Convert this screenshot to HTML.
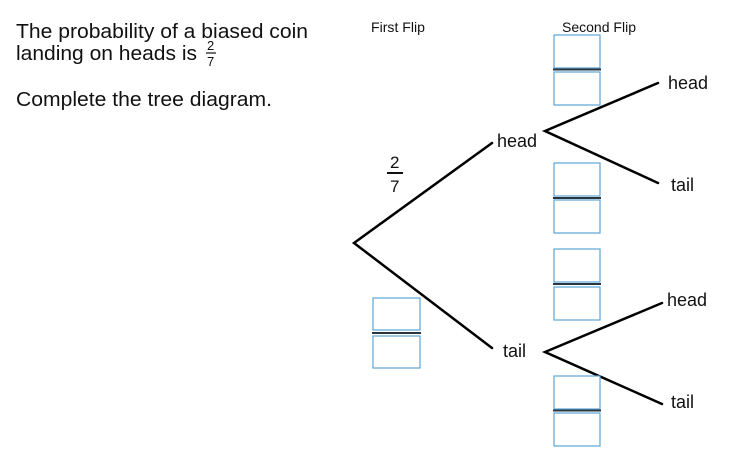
<!DOCTYPE html>
<html><head><style>
html,body{margin:0;padding:0;background:#fff;}
svg{display:block;}
text{font-family:"Liberation Sans",Arial,sans-serif;fill:#111;}
</style></head><body>
<svg width="749" height="455" viewBox="0 0 749 455" xmlns="http://www.w3.org/2000/svg">
<text x="16" y="38" font-size="20" textLength="292" lengthAdjust="spacingAndGlyphs">The probability of a biased coin</text>
<text x="16" y="60" font-size="20" textLength="181" lengthAdjust="spacingAndGlyphs">landing on heads is</text>
<text x="207" y="50" font-size="13">2</text>
<line x1="206" y1="53" x2="216" y2="53" stroke="#111" stroke-width="1.2"/>
<text x="207" y="66" font-size="13">7</text>
<text x="16" y="106" font-size="20" textLength="256" lengthAdjust="spacingAndGlyphs">Complete the tree diagram.</text>

<text x="371" y="32" font-size="14" textLength="54" lengthAdjust="spacingAndGlyphs">First Flip</text>
<text x="562" y="32" font-size="14" textLength="74" lengthAdjust="spacingAndGlyphs">Second Flip</text>

<text x="390" y="168" font-size="17">2</text>
<line x1="387" y1="173" x2="403" y2="173" stroke="#111" stroke-width="2"/>
<text x="390" y="192" font-size="17">7</text>

<g stroke="#000" stroke-width="2.5" fill="none" stroke-linecap="round">
<polyline points="492,143 354,243 492,348"/>
<polyline points="658,83 545,131 658,183"/>
<polyline points="662,303 545,352 662,404"/>
</g>

<text x="497" y="147" font-size="18">head</text>
<text x="503" y="357" font-size="18">tail</text>
<text x="668" y="89" font-size="18">head</text>
<text x="671" y="191" font-size="18">tail</text>
<text x="667" y="306" font-size="18">head</text>
<text x="671" y="408" font-size="18">tail</text>

<g fill="#fff" stroke="#5aa6d6" stroke-width="1.2">
<rect x="554" y="35" width="46" height="33"/><rect x="554" y="72" width="46" height="33"/>
<rect x="554" y="163" width="46" height="33"/><rect x="554" y="200" width="46" height="33"/>
<rect x="554" y="249" width="46" height="33"/><rect x="554" y="287" width="46" height="33"/>
<rect x="554" y="376" width="46" height="33"/><rect x="554" y="413" width="46" height="33"/>
<rect x="373" y="298" width="47" height="32"/><rect x="373" y="336" width="47" height="32"/>
</g>
<g stroke="#2a3540" stroke-width="2">
<line x1="553" y1="69.5" x2="601" y2="69.5"/>
<line x1="553" y1="198" x2="601" y2="198"/>
<line x1="553" y1="284" x2="601" y2="284"/>
<line x1="553" y1="410.5" x2="601" y2="410.5"/>
<line x1="372" y1="333" x2="421" y2="333"/>
</g>
</svg>
</body></html>
